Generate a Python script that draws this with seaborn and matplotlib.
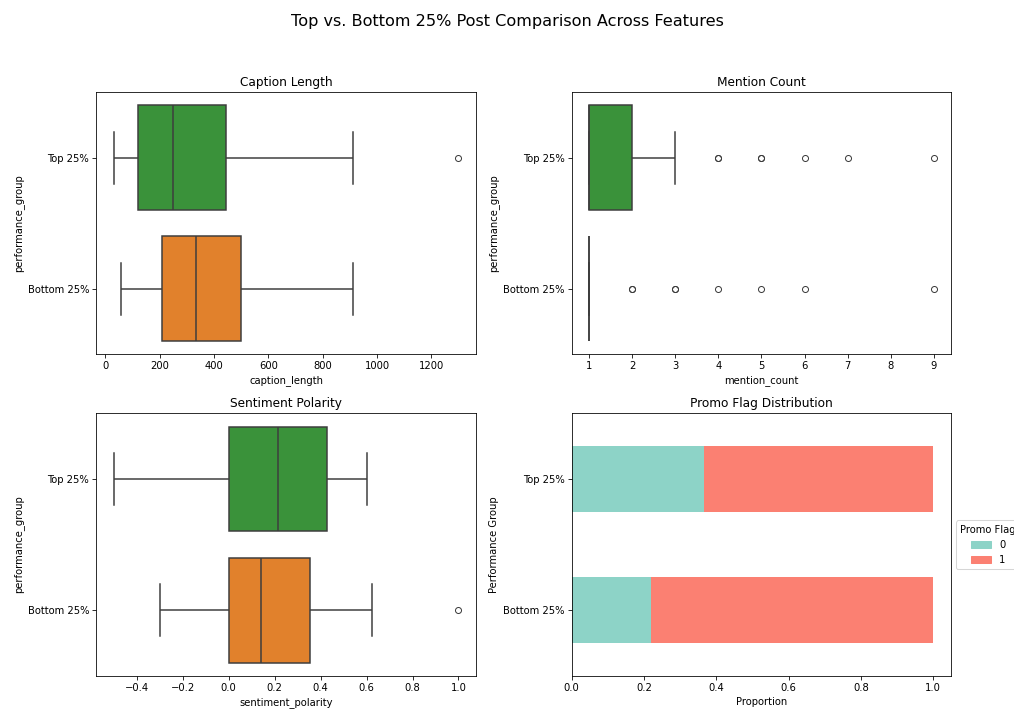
import numpy as np
import pandas as pd
import matplotlib
matplotlib.use("Agg")
import matplotlib.pyplot as plt
from matplotlib.patches import Patch
import seaborn as sns

# =============================================================
# DATA
# =============================================================
groups = ["Top 25%", "Bottom 25%"]

caption_top = [30, 60, 95, 120, 160, 210, 250, 310, 380, 445, 600, 910, 1300]
caption_bottom = [58, 150, 210, 280, 332, 420, 498, 700, 912]

# mention counts: 19 ones, 10 twos and a tail for top; 25 ones + tail for bottom
mention_top = [1] * 19 + [2] * 10 + [3, 4, 4, 5, 5, 6, 7, 9]
mention_bottom = [1] * 25 + [2, 2, 3, 3, 4, 5, 6, 9]

sentiment_top = [-0.5, -0.2, 0.0, 0.1, 0.214, 0.3, 0.427, 0.5, 0.6]
sentiment_bottom = [-0.3, -0.15, -0.05, 0.0, 0.05, 0.1, 0.142, 0.2,
                    0.28, 0.355, 0.45, 0.626, 1.0]

promo_share_0 = [0.365, 0.22]
promo_share_1 = [0.635, 0.78]

palette = {"Top 25%": "tab:green", "Bottom 25%": "tab:orange"}
promo_colors = ["#8dd3c7", "#fb8072"]
line_gray = "#3d3d3d"


def long_df(col, top, bottom):
    return pd.DataFrame({
        col: list(top) + list(bottom),
        "performance_group": ["Top 25%"] * len(top) + ["Bottom 25%"] * len(bottom),
    })


# =============================================================
# FIGURE
# =============================================================
fig, axes = plt.subplots(2, 2, figsize=(14, 9.789), dpi=1014 / 14)
fig.subplots_adjust(left=0.095, right=0.938, top=0.870, bottom=0.047,
                    wspace=0.253, hspace=0.225)
fig.suptitle("Top vs. Bottom 25% Post Comparison Across Features", fontsize=16)

box_panels = [
    (axes[0, 0], "caption_length", caption_top, caption_bottom, "Caption Length"),
    (axes[0, 1], "mention_count", mention_top, mention_bottom, "Mention Count"),
    (axes[1, 0], "sentiment_polarity", sentiment_top, sentiment_bottom, "Sentiment Polarity"),
]
for ax, col, top, bottom, title in box_panels:
    df = long_df(col, top, bottom)
    sns.boxplot(data=df, x=col, y="performance_group", hue="performance_group",
                order=groups, palette=palette, legend=False,
                linecolor=line_gray, linewidth=1.5, ax=ax)
    ax.set_title(title, fontsize=12)

# Promo flag stacked bars (share of 0 drawn over the full bar)
ax = axes[1, 1]
promo_df = pd.DataFrame({
    "group": groups,
    "p0": promo_share_0,
    "total": np.array(promo_share_0) + np.array(promo_share_1),
})
sns.barplot(data=promo_df, x="total", y="group", order=groups, color=promo_colors[1],
            saturation=1, width=0.5, linewidth=0, ax=ax)
sns.barplot(data=promo_df, x="p0", y="group", order=groups, color=promo_colors[0],
            saturation=1, width=0.5, linewidth=0, ax=ax)
ax.set_xlim(0, 1.05)
ax.set_title("Promo Flag Distribution", fontsize=12)
ax.set_xlabel("Proportion")
ax.set_ylabel("Performance Group")
handles = [Patch(color=c, label=l) for c, l in zip(promo_colors, ["0", "1"])]
ax.legend(handles=handles, title="Promo Flag", loc="center left",
          bbox_to_anchor=(1.0, 0.5))

plt.savefig("out.png")
plt.close()
